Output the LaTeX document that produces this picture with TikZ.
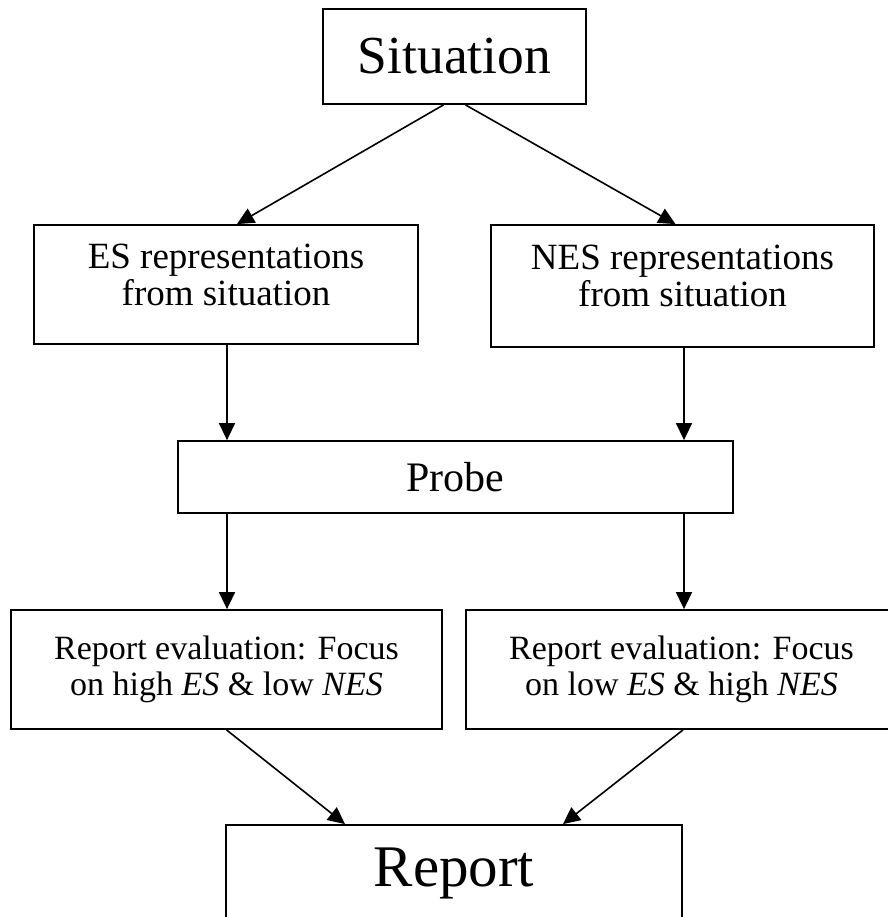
\documentclass[tikz,border=0pt]{standalone}
\usepackage{fontspec}
\setmainfont{Liberation Serif}
\usetikzlibrary{arrows.meta}
\begin{document}
\begin{tikzpicture}[x=1pt,y=-1pt,
  box/.style={draw, line width=1.8pt, inner sep=0pt, align=center},
  bigtext/.style={font=\fontsize{53.5}{60}\selectfont},
  midtext/.style={font=\fontsize{37}{37}\selectfont, text depth=20pt},
  probetext/.style={font=\fontsize{42}{42}\selectfont},
  evaltext/.style={font=\fontsize{34}{36}\selectfont},
  reptext/.style={font=\fontsize{59}{60}\selectfont},
  arr/.style={line width=1.6pt, -{Triangle[length=17pt,width=16pt]}}]
\useasboundingbox (0,0) rectangle (887,917);
\node[box,bigtext,minimum width=263pt,minimum height=95pt] (sit) at (454.5,56.5) {Situation};
\node[box,midtext,minimum width=384pt,minimum height=119pt] (es) at (226,284.5) {ES representations\\from situation};
\node[box,midtext,minimum width=383pt,minimum height=122pt] (nes) at (682.5,286) {NES representations\\from situation};
\node[box,probetext,minimum width=555pt,minimum height=72pt] (probe) at (455.5,477) {Probe};
\node[box,evaltext,minimum width=431pt,minimum height=119pt] (leval) at (226.5,669.5) {Report evaluation: Focus\\on high \textit{ES} \& low \textit{NES}};
\node[box,evaltext,minimum width=431pt,minimum height=119pt] (reval) at (681.5,669.5) {Report evaluation: Focus\\on low \textit{ES} \& high \textit{NES}};
\node[box,reptext,minimum width=456pt,minimum height=96pt] (report) at (454,873) {Report};
\draw[arr] ([xshift=-11pt]sit.south) -- ([xshift=11pt]es.north);
\draw[arr] ([xshift=11pt]sit.south) -- ([xshift=-7pt]nes.north);
\draw[arr] ([xshift=1pt]es.south) -- ([xshift=1pt]es.south |- probe.north);
\draw[arr] ([xshift=1.5pt]nes.south) -- ([xshift=1.5pt]nes.south |- probe.north);
\draw[arr] ([xshift=0.5pt]leval.north |- probe.south) -- ([xshift=0.5pt]leval.north);
\draw[arr] ([xshift=2.5pt]reval.north |- probe.south) -- ([xshift=2.5pt]reval.north);
\draw[arr] (leval.south) -- ([xshift=-109pt]report.north);
\draw[arr] ([xshift=1.5pt]reval.south) -- ([xshift=109pt]report.north);
\end{tikzpicture}
\end{document}
